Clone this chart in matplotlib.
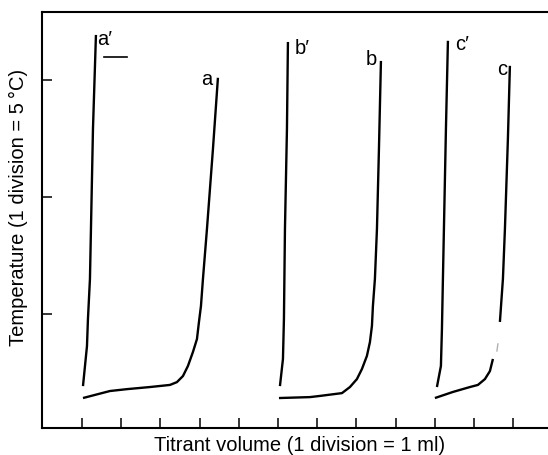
import matplotlib
matplotlib.use("Agg")
import matplotlib.pyplot as plt
import numpy as np

plt.rcParams['font.family'] = ['Liberation Sans', 'DejaVu Sans']

# titrant volume (ml) / temperature (deg C)
a2_x = [0.026, 0.128, 0.153, 0.204, 0.281, 0.357]
a2_y = [1.92, 3.63, 4.79, 6.50, 12.91, 16.92]
a_x = [0.026, 0.714, 1.148, 1.735, 2.245, 2.423, 2.577, 2.704, 2.832, 2.934, 2.985,
       3.036, 3.087, 3.189, 3.342, 3.469]
a_y = [1.41, 1.71, 1.79, 1.88, 1.97, 2.09, 2.35, 2.78, 3.38, 3.93, 4.66,
       5.34, 6.50, 8.63, 12.05, 15.09]

b2_x = [5.051, 5.128, 5.153, 5.179, 5.230, 5.255]
b2_y = [1.92, 3.08, 4.79, 8.63, 12.91, 16.62]
b_x = [5.026, 5.816, 6.071, 6.633, 6.837, 7.015, 7.143, 7.270, 7.347, 7.398, 7.423,
       7.474, 7.526, 7.577, 7.628]
b_y = [1.41, 1.45, 1.50, 1.62, 1.88, 2.22, 2.65, 3.21, 3.80, 4.49, 5.34,
       6.50, 8.63, 12.05, 15.81]

c2_x = [9.056, 9.158, 9.184, 9.209, 9.286, 9.337]
c2_y = [1.88, 2.78, 4.36, 6.50, 12.91, 16.67]
# the printed curve c has a break, with a faint bit in it
c_x = [9.005, 9.464, 9.898, 10.102, 10.281, 10.408, 10.485, np.nan,
       10.663, 10.740, 10.791, 10.867, 10.918]
c_y = [1.41, 1.67, 1.88, 1.97, 2.22, 2.56, 3.08, np.nan,
       4.66, 6.50, 8.63, 12.48, 15.60]
c_faint_x = [10.587, 10.612]
c_faint_y = [3.42, 3.72]

scale_x = [0.561, 1.148]
scale_y = [15.98, 15.98]

labels = ["a\u2032", "a", "b\u2032", "b", "c\u2032", "c"]
label_x = [0.38, 3.34, 5.43, 7.52, 9.515, 10.84]
label_y = [16.75, 15.04, 16.37, 15.9, 16.54, 15.47]
label_ha = ['left', 'right', 'left', 'right', 'left', 'right']

xticks = list(range(12))
yticks = [5, 10, 15]

fig = plt.figure(figsize=(5.48, 4.56), dpi=100)
ax = fig.add_axes([0.0766, 0.0592, 0.9234, 0.9123])

for xs, ys in [(a2_x, a2_y), (a_x, a_y), (b2_x, b2_y), (b_x, b_y), (c2_x, c2_y), (c_x, c_y)]:
    ax.plot(xs, ys, color='black', lw=1.7, solid_capstyle='butt', solid_joinstyle='round')
ax.plot(c_faint_x, c_faint_y, color='#b0b0b0', lw=1.0)
ax.plot(scale_x, scale_y, color='black', lw=1.2)

for t, x, y, ha in zip(labels, label_x, label_y, label_ha):
    ax.text(x, y, t, ha=ha, va='center', fontsize=14.5)

ax.set_xlim(-1.02, 11.89)
ax.set_ylim(0.13, 17.9)
ax.set_xticks(xticks)
ax.set_yticks(yticks)
ax.set_xticklabels([])
ax.set_yticklabels([])
ax.tick_params(direction='in', length=7, width=1.1, color='black')
ax.spines['right'].set_visible(False)
for s in ['left', 'top', 'bottom']:
    ax.spines[s].set_linewidth(1.5)

fig.text(0.547, 0.024, "Titrant volume (1 division = 1 ml)", ha='center', va='center', fontsize=14.5)
fig.text(0.033, 0.546, "Temperature (1 division = 5\u2009\u00b0C)", ha='center', va='center',
         rotation=90, fontsize=14.5)

fig.savefig("out.png", dpi=100)
